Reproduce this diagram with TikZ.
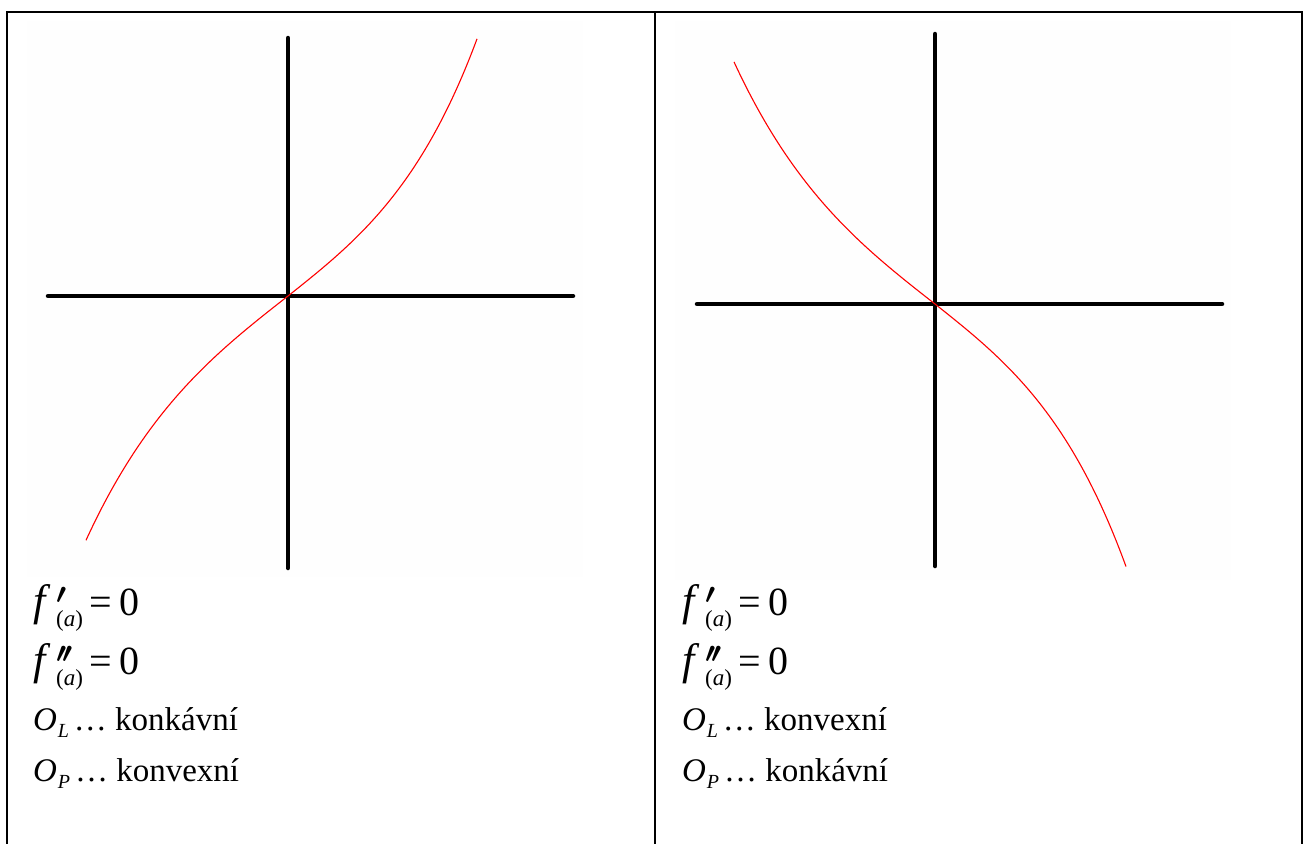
\documentclass[tikz,border=0pt]{standalone}
\usepackage{fix-cm}
\usepackage{fontspec}
\setmainfont{Liberation Serif}
\definecolor{panelbg}{RGB}{254,254,254}
\definecolor{curvered}{RGB}{255,0,0}
\newcommand{\mathline}[1]{%
  {\fontsize{44}{48}\selectfont\itshape f}%
  \hspace{11pt}%
  \rlap{\raisebox{12pt}{\fontsize{29}{29}\selectfont\boldmath$#1$}}%
  \raisebox{-11pt}{\fontsize{23}{23}\selectfont(\textit{a})}%
  \hspace{6pt}{\fontsize{40}{48}\selectfont =\hspace{8pt}0}}
\newcommand{\oline}[2]{%
  {\fontsize{33}{40}\selectfont\textit{O}}%
  \raisebox{-7pt}{\fontsize{20}{20}\selectfont\hspace{1pt}\textit{#1}}%
  {\fontsize{33}{40}\selectfont\hspace{5pt}…\ #2}}
\begin{document}
\begin{tikzpicture}[x=1pt,y=-1pt,
  frameline/.style={line width=2pt,black},
  axisline/.style={line width=4.5pt,black,line cap=round},
  curveline/.style={line width=1.1pt,curvered},
  txt/.style={anchor=base west,inner sep=0pt,outer sep=0pt}]
\useasboundingbox (0,0) rectangle (1305,844);
\fill[white] (0,0) rectangle (1305,844);
% panels
\fill[panelbg] (27,21) rectangle (583,577);
\fill[panelbg] (675,21) rectangle (1231,580);
% frame
\draw[frameline] (6,12) -- (1303,12);
\draw[frameline] (7,11) -- (7,844);
\draw[frameline] (655,11) -- (655,844);
\draw[frameline] (1302,11) -- (1302,844);
% left graph (origin 288,296)
\draw[axisline] (48,296) -- (573,296);
\draw[axisline] (288,38) -- (288,568);
\draw[curveline] plot[domain=-202:0,samples=80] ({288+\x},{296-94*(exp(\x/120)-exp(-\x/120))/2})
  -- plot[domain=0:189,samples=80] ({288+\x},{296-79.5*(exp(\x/100)-exp(-\x/100))/2});
% right graph (origin 935,304)
\draw[axisline] (697,304) -- (1222,304);
\draw[axisline] (935,34) -- (935,566);
\draw[curveline] plot[domain=-201:0,samples=80] ({935+\x},{304+94*(exp(\x/120)-exp(-\x/120))/2})
  -- plot[domain=0:191,samples=80] ({935+\x},{304+79.5*(exp(\x/100)-exp(-\x/100))/2});
% left texts
\node[txt] (l1) at (33,615) {\mathline{\prime}};
\node[txt] (l2) at (33,674) {\mathline{\prime\mkern-2mu\prime}};
\node[txt] (l3) at (33,730) {\oline{L}{konkávní}};
\node[txt] (l4) at (33,781) {\oline{P}{konvexní}};
% right texts
\node[txt] (r1) at (682,615) {\mathline{\prime}};
\node[txt] (r2) at (682,674) {\mathline{\prime\mkern-2mu\prime}};
\node[txt] (r3) at (682,730) {\oline{L}{konvexní}};
\node[txt] (r4) at (682,781) {\oline{P}{konkávní}};
\end{tikzpicture}
\end{document}
